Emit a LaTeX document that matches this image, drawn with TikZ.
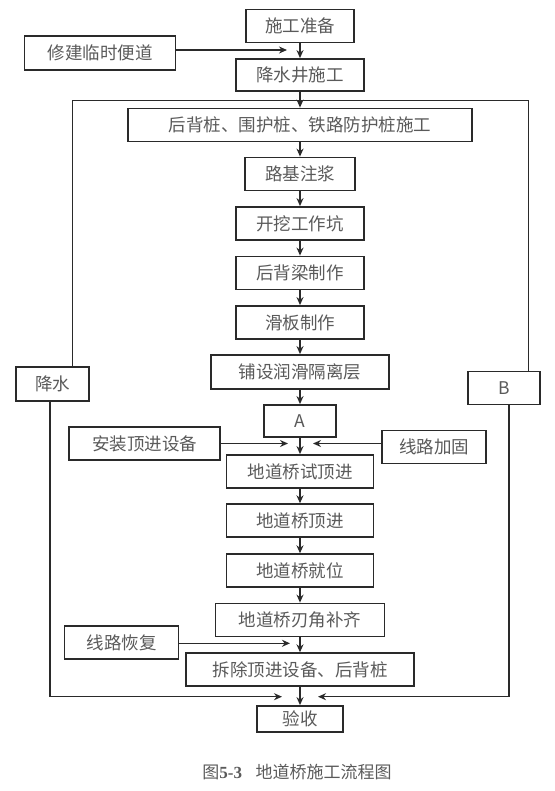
\documentclass[tikz,border=0pt]{standalone}
\usepackage{fontspec}
\usepackage{xcolor}
\usepackage{tikz}
\usetikzlibrary{arrows.meta,positioning}
\setmainfont{Noto Sans CJK SC}
\newfontfamily\capserif{Liberation Serif}
\definecolor{lineGray}{HTML}{2A2A2A}
\definecolor{textGray}{HTML}{5A5A5A}

\begin{document}
\begin{tikzpicture}[
  x=1pt,y=-1pt,
  box/.style={draw=lineGray,line width=1.8pt,fill=white,align=center,inner sep=0pt,minimum height=33pt,font=\fontsize{17.5}{20}\selectfont,text=textGray},
  arrow/.style={-{Stealth[length=8pt,width=7pt]},line width=1.5pt,draw=lineGray},
  link/.style={line width=1.5pt,draw=lineGray}
]
\useasboundingbox (0,0) rectangle (554,791);
\node[box,minimum width=108pt] (prep) at (300,26) {施工准备};
\node[box,minimum width=151pt,minimum height=34pt] (road) at (100,53) {修建临时便道};
\node[box,minimum width=128pt,minimum height=32pt] (well) at (300,75) {降水井施工};
\node[box,minimum width=344pt] (pile) at (300,125) {后背桩、围护桩、铁路防护桩施工};
\node[box,minimum width=110pt] (grout) at (300,174) {路基注浆};
\node[box,minimum width=128pt] (pit) at (300,223.5) {开挖工作坑};
\node[box,minimum width=128pt] (beam) at (300,273) {后背梁制作};
\node[box,minimum width=128pt] (slab) at (300,322.5) {滑板制作};
\node[box,minimum width=178pt,minimum height=34pt] (layer) at (300,372) {铺设润滑隔离层};
\node[box,minimum width=73pt,minimum height=34pt] (dewater) at (52.5,384) {降水};
\node[box,minimum width=72pt] (nodeB) at (504,388) {B};
\node[box,minimum width=72pt,minimum height=32pt] (nodeA) at (300,421) {A};
\node[box,minimum width=151pt] (equip) at (144.5,443.7) {安装顶进设备};
\node[box,minimum width=104pt] (reinf) at (434,447) {线路加固};
\node[box,minimum width=147pt] (trial) at (300,471.5) {地道桥试顶进};
\node[box,minimum width=147pt] (push) at (300,520.7) {地道桥顶进};
\node[box,minimum width=147pt] (place) at (300,570.7) {地道桥就位};
\node[box,minimum width=169pt] (edge) at (300,620) {地道桥刃角补齐};
\node[box,minimum width=114pt] (restore) at (121.5,642.5) {线路恢复};
\node[box,minimum width=228pt] (remove) at (300,669.7) {拆除顶进设备、后背桩};
\node[box,minimum width=86pt,minimum height=26pt] (accept) at (300,719) {验收};
\node[text=textGray,font=\fontsize{17}{20}\selectfont] (caption) at (297,772) {图{\capserif\bfseries 5-3}\hspace{0.8em}地道桥施工流程图};
\coordinate (roadTip) at (287,50);
\coordinate (equipTip) at (288,443.5);
\coordinate (reinfTip) at (313,443.5);
\coordinate (restoreTip) at (290,643.3);
\coordinate (loopL) at (72.4,100.7);
\coordinate (loopR) at (528.6,100.7);
\coordinate (downL) at (49.8,696.7);
\coordinate (downR) at (508.8,696.7);
\coordinate (acceptL) at (282,696.7);
\coordinate (acceptR) at (318,696.7);
\draw[arrow] (prep) -- (well);
\draw[arrow] (road.east |- roadTip) -- (roadTip);
\draw[arrow] (well) -- (pile);
\draw[link] (loopL |- dewater.north) -- (loopL) -- (loopR) -- (loopR |- nodeB.north);
\draw[arrow] (pile) -- (grout);
\draw[arrow] (grout) -- (pit);
\draw[arrow] (pit) -- (beam);
\draw[arrow] (beam) -- (slab);
\draw[arrow] (slab) -- (layer);
\draw[arrow] (layer) -- (nodeA);
\draw[arrow] (nodeA) -- (trial);
\draw[arrow] (equip.east |- equipTip) -- (equipTip);
\draw[arrow] (reinf.west |- reinfTip) -- (reinfTip);
\draw[arrow] (trial) -- (push);
\draw[arrow] (push) -- (place);
\draw[arrow] (place) -- (edge);
\draw[arrow] (edge) -- (remove);
\draw[arrow] (restore.east |- restoreTip) -- (restoreTip);
\draw[arrow] (remove) -- (accept);
\draw[arrow] (downL |- dewater.south) -- (downL) -- (acceptL);
\draw[arrow] (downR |- nodeB.south) -- (downR) -- (acceptR);
\end{tikzpicture}
\end{document}
